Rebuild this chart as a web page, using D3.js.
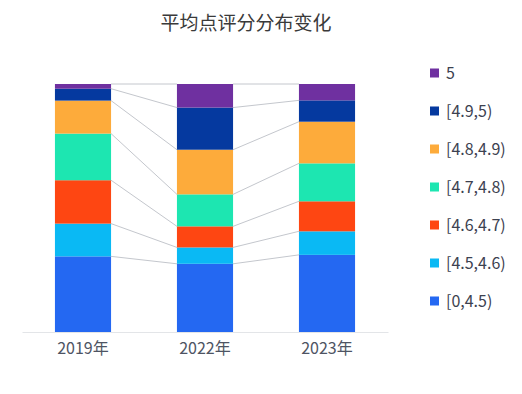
<!DOCTYPE html>
<html>
<head>
<meta charset="utf-8">
<script src="https://cdn.jsdelivr.net/npm/d3@7"></script>
<style>
  body { margin: 0; background: #fff; }
  svg { display: block; font-family: "Noto Sans CJK SC", "Noto Sans", sans-serif; }
</style>
</head>
<body>
<div id="chart"></div>
<script>
// data (percent of each year)
var years = ["2019年", "2022年", "2023年"];
var groups = ["[0,4.5)", "[4.5,4.6)", "[4.6,4.7)", "[4.7,4.8)", "[4.8,4.9)", "[4.9,5)", "5"];
var v0_45 = [30.5, 27.5, 31.1];
var v45_46 = [13.2, 6.6, 9.5];
var v46_47 = [17.5, 8.5, 12.1];
var v47_48 = [18.8, 12.9, 15.3];
var v48_49 = [13.3, 18.0, 16.8];
var v49_5 = [4.8, 17.0, 8.6];
var v5 = [1.9, 9.5, 6.6];
var colors = ["#2468f2", "#0ab9f4", "#fe4612", "#1de6b1", "#fdab3b", "#05399f", "#6f30a0"];
var title = "平均点评分分布变化";

var series = [v0_45, v45_46, v46_47, v47_48, v48_49, v49_5, v5];

var W = 522, H = 394;
var margin = { top: 84, right: 134, bottom: 62, left: 22 };
var width = W - margin.left - margin.right,
    height = H - margin.top - margin.bottom;

var rows = years.map(function (y, i) {
    var r = { year: y };
    groups.forEach(function (g, k) { r[g] = series[k][i]; });
    return r;
});

var stack = d3.stack().keys(groups).offset(d3.stackOffsetExpand);
var layers = stack(rows);

var svg = d3.select("#chart").append("svg")
    .attr("width", W).attr("height", H);

svg.append("text")
    .attr("x", 246).attr("y", 30)
    .attr("text-anchor", "middle")
    .style("font-size", "19px")
    .style("fill", "#3a3a3a")
    .text(title);

var g = svg.append("g")
    .attr("transform", "translate(" + margin.left + "," + margin.top + ")");

var x = d3.scaleBand().domain(years).range([0, width]).paddingInner(0.54).paddingOuter(0.27);
var y = d3.scaleLinear().domain([0, 1]).range([height, 0]);

// connector lines between bars
var links = [];
layers.forEach(function (layer) {
    for (var i = 0; i < years.length - 1; i++) {
        links.push({ a: years[i], b: years[i + 1], ya: layer[i][1], yb: layer[i + 1][1] });
    }
});
g.append("g").selectAll("line")
    .data(links)
    .enter().append("line")
    .attr("x1", function (d) { return x(d.a) + x.bandwidth(); })
    .attr("x2", function (d) { return x(d.b); })
    .attr("y1", function (d) { return y(d.ya); })
    .attr("y2", function (d) { return y(d.yb); })
    .attr("stroke", "#c4c7cd")
    .attr("stroke-width", 1);

// bars
g.append("g").selectAll("g")
    .data(layers)
    .enter().append("g")
    .attr("fill", function (d, i) { return colors[i]; })
    .selectAll("rect")
    .data(function (d) { return d; })
    .enter().append("rect")
    .attr("x", function (d) { return x(d.data.year); })
    .attr("y", function (d) { return y(d[1]); })
    .attr("height", function (d) { return y(d[0]) - y(d[1]); })
    .attr("width", x.bandwidth());

// x axis
var xAxis = g.append("g")
    .attr("transform", "translate(0," + height + ")")
    .call(d3.axisBottom(x).tickSize(0).tickPadding(11));
xAxis.select(".domain").attr("stroke", "#e3e5e8");
xAxis.selectAll("text")
    .style("font-size", "16px")
    .style("fill", "#4e5463")
    .style("font-family", "\"Noto Sans CJK SC\", sans-serif");

// legend, top item is "5"
var legend = svg.append("g").attr("transform", "translate(430,73)");
var items = legend.selectAll("g")
    .data(groups.slice().reverse())
    .enter().append("g")
    .attr("transform", function (d, i) { return "translate(0," + (i * 38) + ")"; });
items.append("rect")
    .attr("x", 0).attr("y", -4.5)
    .attr("width", 9).attr("height", 9)
    .attr("fill", function (d) { return colors[groups.indexOf(d)]; });
items.append("text")
    .attr("x", 16).attr("y", 6)
    .style("font-size", "16px")
    .style("fill", "#3c4150")
    .text(function (d) { return d; });
</script>
</body>
</html>
